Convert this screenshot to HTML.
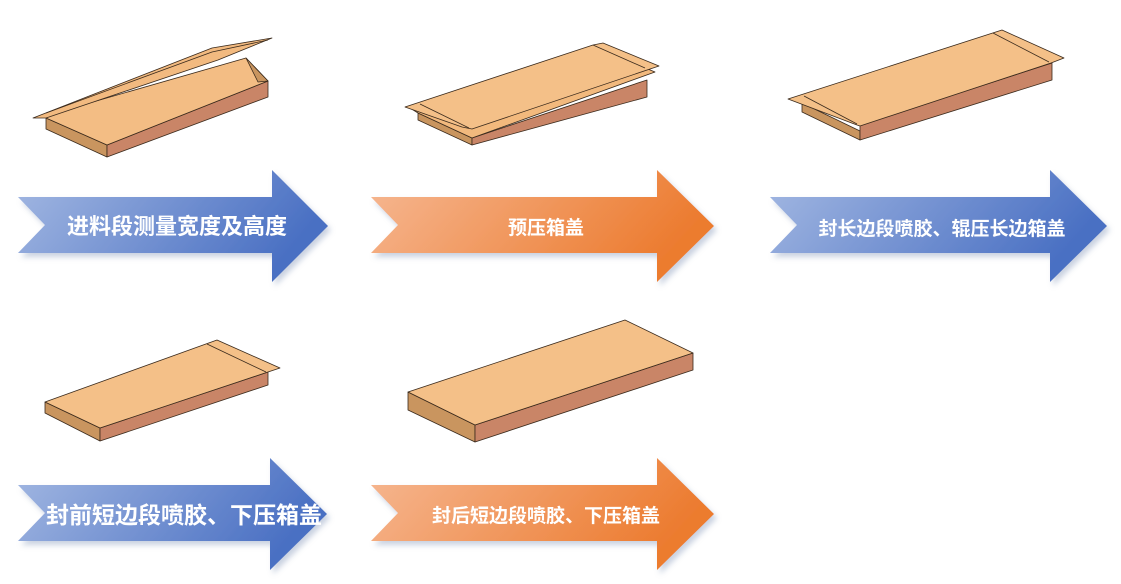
<!DOCTYPE html>
<html><head><meta charset="utf-8"><style>
html,body{margin:0;padding:0;background:#fff;}
svg{display:block;}
text{font-family:"Liberation Sans","Noto Sans CJK SC",sans-serif;font-weight:bold;fill:#fff;}
</style></head><body>
<svg width="1121" height="584" viewBox="0 0 1121 584">
<defs>
<linearGradient id="bl" x1="0" y1="0" x2="1" y2="0.3"><stop offset="0" stop-color="#a3b8e2"/><stop offset="1" stop-color="#4a70c3"/></linearGradient>
<linearGradient id="or" x1="0" y1="0" x2="1" y2="0.3"><stop offset="0" stop-color="#f6b893"/><stop offset="1" stop-color="#ec7b2f"/></linearGradient>
<filter id="sh" x="-10%" y="-10%" width="130%" height="140%"><feDropShadow dx="3" dy="4" stdDeviation="3" flood-color="#8899bb" flood-opacity="0.45"/></filter>
</defs>
<g stroke="#3a2a1c" stroke-width="0.8" stroke-linejoin="round">
<!-- box1 -->
<polygon points="46,118 107,145 107,157 46,129" fill="#c9955f"/>
<polygon points="107,145 268,81 268,97 107,157" fill="#c98567"/>
<polygon points="58,112 246,58 268,81 107,145 46,118" fill="#f3bd84"/>
<polygon points="246,58 268,81 258,82" fill="#c9955f"/>
<polygon points="33,118 212,48 272,38 218,60 46,118" fill="#f2ba80"/>
<polyline points="46,113 212,52 268,40" fill="none"/>
<!-- box2 -->
<polygon points="418,113 472,138 472,145 418,120" fill="#c9955f"/>
<polygon points="472,138 647,80 647,97 472,145" fill="#c98567"/>
<polygon points="410,108 597,48 655,72 472,138 418,113" fill="#f2b97d"/>
<polygon points="405,107 593,45 603,43 659,66 472,129 462,127" fill="#f4c088"/>
<line x1="420" y1="104" x2="469" y2="128"/>
<line x1="593" y1="45" x2="645" y2="68"/>
<!-- box3 -->
<polygon points="802,103 860,131 860,140 802,112" fill="#c9955f"/>
<polygon points="860,125 1052,63 1052,80 860,140" fill="#c98567"/>
<polygon points="788,99 1002,30 1064,58 1051,63 860,126 857,125" fill="#f4c088"/>
<line x1="804" y1="96" x2="857" y2="124"/>
<line x1="993" y1="33" x2="1049" y2="62"/>
<!-- box4 -->
<polygon points="45,402 100,428 100,441 45,413" fill="#c9955f"/>
<polygon points="100,428 268,372 268,385 100,441" fill="#c98567"/>
<polygon points="45,402 217,340 280,368 268,372 100,428" fill="#f4c088"/>
<line x1="207" y1="344" x2="266" y2="372"/>
<!-- box5 -->
<polygon points="408,392 475,425 475,442 408,410" fill="#c9955f"/>
<polygon points="475,425 693,353 693,370 475,442" fill="#c98567"/>
<polygon points="408,392 625,320 693,353 475,425" fill="#f4c088"/>
</g>
<!-- arrows -->
<g filter="url(#sh)">
<polygon points="18,197 272,197 272,170 328,226 272,282 272,253 18,253 45,225" fill="url(#bl)"/>
<polygon points="371,197 657,197 657,170 714,226 657,282 657,253 371,253 398,225" fill="url(#or)"/>
<polygon points="770,197 1050,197 1050,170 1107,226 1050,282 1050,253 770,253 797,225" fill="url(#bl)"/>
<polygon points="18,485 270,485 270,458 327,514 270,570 270,541 18,541 45,513" fill="url(#bl)"/>
<polygon points="371,485 657,485 657,458 714,514 657,570 657,541 371,541 398,513" fill="url(#or)"/>
</g>
<text x="177" y="234" font-size="22" text-anchor="middle">进料段测量宽度及高度</text>
<text x="546" y="234" font-size="19" text-anchor="middle">预压箱盖</text>
<text x="942" y="235" font-size="19" text-anchor="middle">封长边段喷胶、辊压长边箱盖</text>
<text x="184" y="523" font-size="23" text-anchor="middle">封前短边段喷胶、下压箱盖</text>
<text x="546" y="522" font-size="19" text-anchor="middle">封后短边段喷胶、下压箱盖</text>
</svg>
</body></html>
